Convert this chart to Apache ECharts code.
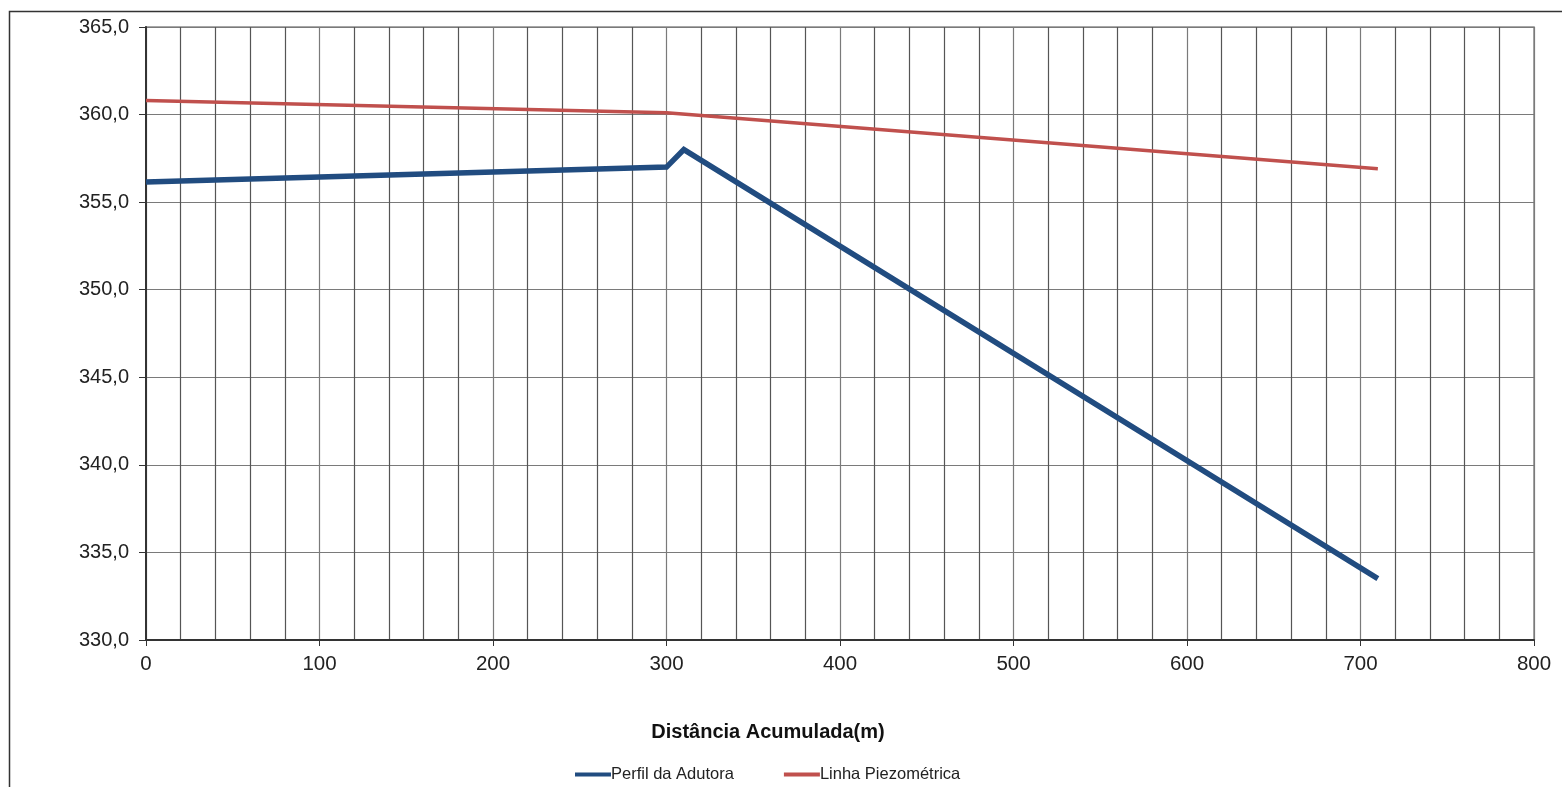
<!DOCTYPE html>
<html>
<head>
<meta charset="utf-8">
<script src="https://cdn.jsdelivr.net/npm/echarts@6/dist/echarts.min.js"></script>
<style>
  html, body { margin: 0; padding: 0; background: #fff; }
  #chart { width: 1562px; height: 787px; }
</style>
</head>
<body>
<div id="chart"></div>
<script>
// Distâncias acumuladas (m) e cotas (m)
const perfilDist = [0, 300, 310, 710];
const perfilCota = [356.15, 357.0, 358.0, 333.5];
const piezoDist = [0, 300, 710];
const piezoCota = [360.8, 360.1, 356.9];
const seriesNames = ['Perfil da Adutora', 'Linha Piezométrica'];
const xTitle = 'Distância Acumulada(m)';

const pairs = (xs, ys) => xs.map((x, i) => [x, ys[i]]);
const fontFamily = '"Liberation Sans", Arial, sans-serif';

const chart = echarts.init(document.getElementById('chart'));
chart.setOption({
  backgroundColor: '#fff',
  animation: false,
  grid: {
    left: 146, right: 28, top: 27, bottom: 147,
    show: true, borderColor: '#8a8a8a', borderWidth: 1.5
  },
  xAxis: {
    type: 'value', min: 0, max: 800, interval: 100,
    axisLine: { show: true, onZero: false, lineStyle: { color: '#333', width: 2 } },
    axisTick: { show: true, length: 6, lineStyle: { color: '#333', width: 1 } },
    axisLabel: { color: '#222', fontSize: 20.5, fontFamily, margin: 14 },
    splitLine: { show: true, lineStyle: { color: '#7a7a7a', width: 1.2 } },
    minorTick: { show: false, splitNumber: 5 },
    minorSplitLine: { show: true, lineStyle: { color: '#555', width: 1.2 } }
  },
  yAxis: {
    type: 'value', min: 330, max: 365, interval: 5,
    axisLine: { show: true, onZero: false, lineStyle: { color: '#333', width: 2 } },
    axisTick: { show: true, length: 7, lineStyle: { color: '#333', width: 1 } },
    axisLabel: {
      color: '#222', fontSize: 20, fontFamily, margin: 17,
      formatter: v => v.toFixed(1).replace('.', ',')
    },
    splitLine: { show: true, lineStyle: { color: '#7a7a7a', width: 1.2 } }
  },
  legend: {
    left: 570, top: 761,
    itemWidth: 36, itemHeight: 4, itemGap: 50,
    icon: 'rect',
    textStyle: { fontSize: 16.5, fontFamily, color: '#222', padding: [0, 0, 0, -5] },
    data: seriesNames
  },
  graphic: [
    {
      type: 'polyline', silent: true,
      shape: { points: [[9.5, 787], [9.5, 11.5], [1562, 11.5]] },
      style: { stroke: '#333', lineWidth: 1.5, fill: null }
    },
    {
      type: 'text', silent: true,
      x: 768, y: 732,
      style: {
        text: xTitle, x: 0, y: 0,
        font: 'bold 20px ' + fontFamily, fill: '#111',
        textAlign: 'center', textVerticalAlign: 'middle'
      }
    }
  ],
  series: [
    {
      name: seriesNames[0], type: 'line',
      data: pairs(perfilDist, perfilCota),
      showSymbol: false, symbol: 'none',
      lineStyle: { color: '#214c80', width: 5.5, join: 'miter' },
      itemStyle: { color: '#214c80' },
      z: 3
    },
    {
      name: seriesNames[1], type: 'line',
      data: pairs(piezoDist, piezoCota),
      showSymbol: false, symbol: 'none',
      lineStyle: { color: '#c0504d', width: 3.5 },
      itemStyle: { color: '#c0504d' },
      z: 2
    }
  ]
});
</script>
</body>
</html>
